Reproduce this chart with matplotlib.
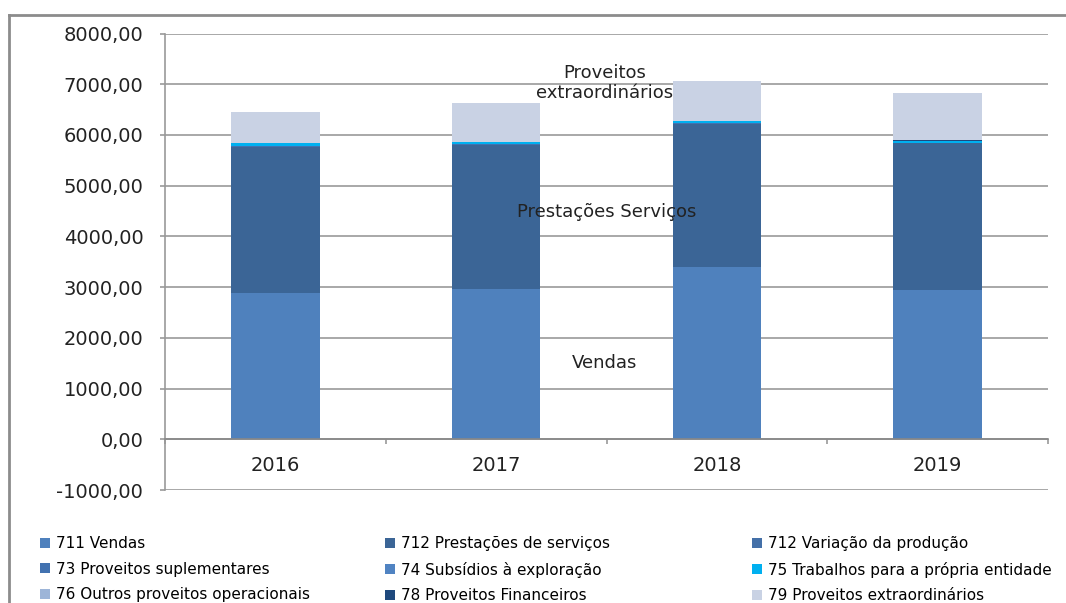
import matplotlib
matplotlib.use("Agg")
import matplotlib.pyplot as plt
from matplotlib.lines import Line2D
from matplotlib.patches import Patch
import numpy as np

years = ["2016", "2017", "2018", "2019"]
vendas = [2890, 2970, 3405, 2950]
prestacoes = [2870, 2840, 2820, 2890]
variacao = [0, 0, 0, 0]
suplementares = [15, 10, 10, 10]
subsidios = [0, 0, 0, 0]
trabalhos = [60, 40, 35, 35]
outros = [10, 5, 5, 5]
financeiros = [5, 5, 5, 5]
extraordinarios = [600, 760, 787, 941]

series = [
    ("711 Vendas", vendas, "#4F81BD"),
    ("712 Prestações de serviços", prestacoes, "#3B6596"),
    ("712 Variação da produção", variacao, "#4470A8"),
    ("73 Proveitos suplementares", suplementares, "#4272B0"),
    ("74 Subsídios à exploração", subsidios, "#5083C2"),
    ("75 Trabalhos para a própria entidade", trabalhos, "#00B0F0"),
    ("76 Outros proveitos operacionais", outros, "#9DB5D8"),
    ("78 Proveitos Financeiros", financeiros, "#1F497D"),
    ("79 Proveitos extraordinários", extraordinarios, "#C9D2E4"),
]

fig = plt.figure(figsize=(10.66, 6.03), dpi=100)
ax = fig.add_axes([165/1066, 1-490/603, (1048-165)/1066, (490-33.5)/603])

x = np.arange(len(years))
bottom = np.zeros(len(years))
for name, vals, col in series:
    v = np.array(vals, dtype=float)
    ax.bar(x, v, width=0.4, bottom=bottom, color=col, label=name, zorder=3)
    bottom += v

gray = "#999999"
ax.set_xlim(-0.5, 3.5)
ax.set_ylim(-1000, 8000)
yt = np.arange(-1000, 8001, 1000)
ax.set_yticks(yt)
ax.set_yticklabels([f"{v:.2f}".replace(".", ",") for v in yt], fontsize=14, color="#222222")
ax.yaxis.grid(True, color=gray, linewidth=1.2, zorder=0)
ax.tick_params(axis="y", length=3.6, color=gray, width=1.2, pad=12)

ax.spines["top"].set_visible(False)
ax.spines["right"].set_visible(False)
ax.spines["left"].set_color(gray)
ax.spines["left"].set_linewidth(1.2)
ax.spines["bottom"].set_position(("data", 0))
ax.spines["bottom"].set_color("#888888")
ax.spines["bottom"].set_linewidth(1.2)
ax.spines["bottom"].set_zorder(4)

ax.set_xticks(x)
ax.set_xticklabels(years, fontsize=14, color="#222222")
ax.tick_params(axis="x", which="major", length=0, pad=12)
ax.set_xticks(np.arange(-0.5, 3.6, 1), minor=True)
ax.tick_params(axis="x", which="minor", length=3.6, color=gray, width=1.2)

ax.text(1.49, 7020, "Proveitos\nextraordinários", ha="center", va="center", fontsize=13, color="#222222", linespacing=1.15)
ax.text(1.5, 4490, "Prestações Serviços", ha="center", va="center", fontsize=13, color="#222222")
ax.text(1.49, 1500, "Vendas", ha="center", va="center", fontsize=13, color="#222222")

# outer frame
fig.add_artist(Line2D([9/1066, 1.0], [1-15/603, 1-15/603], color="#8C8C8C", linewidth=2, transform=fig.transFigure))
fig.add_artist(Line2D([9/1066, 9/1066], [1-15/603, 0], color="#8C8C8C", linewidth=2, transform=fig.transFigure))

# legend: three columns placed explicitly
col_x = [40/1066, 385/1066, 752/1066]
for c in range(3):
    hs = []
    for r in range(3):
        name, vals, col = series[r*3 + c]
        hs.append(Patch(facecolor=col, edgecolor="none", label=name))
    fig.legend(handles=hs, loc="upper left", bbox_to_anchor=(col_x[c], 1-536/603),
               frameon=False, fontsize=11, handlelength=0.65, handleheight=0.65,
               handletextpad=0.4, labelspacing=0.7, borderaxespad=0, borderpad=0)

fig.savefig("out.png", dpi=100)
